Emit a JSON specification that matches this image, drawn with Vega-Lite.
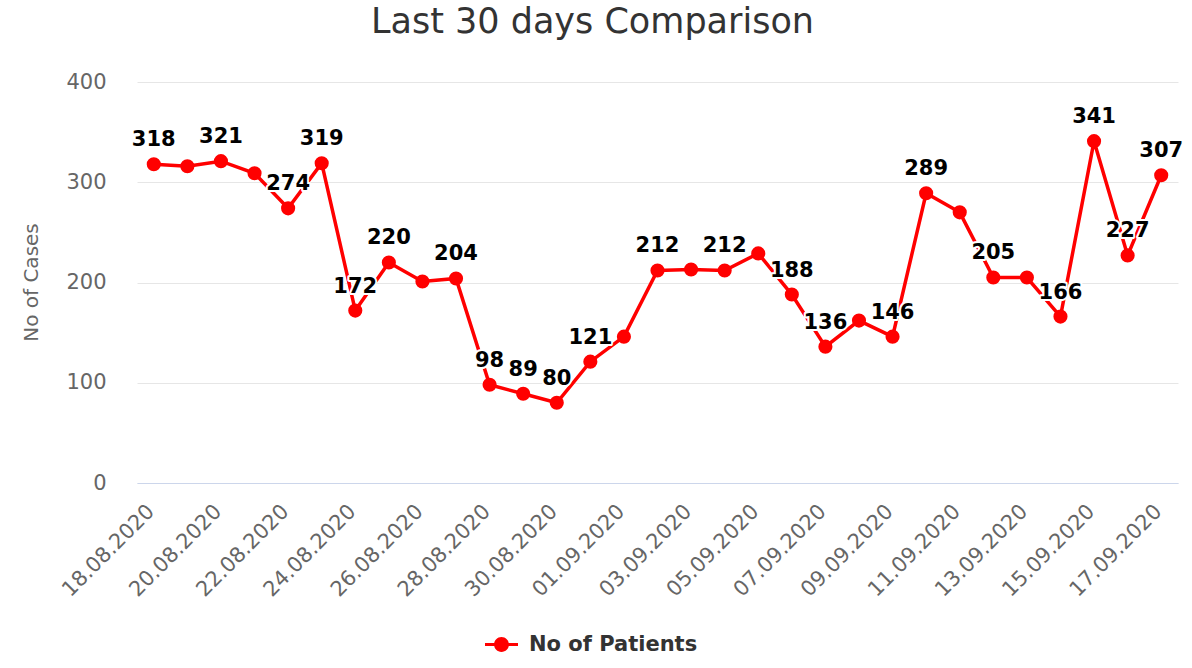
{
  "$schema": "https://vega.github.io/schema/vega-lite/v6.json",
  "width": 1041,
  "height": 401,
  "autosize": {"type": "none"},
  "padding": {"left": 137, "top": 82, "right": 14, "bottom": 185},
  "background": "white",
  "title": {
    "text": "Last 30 days Comparison",
    "fontSize": 35,
    "fontWeight": "normal",
    "color": "#333333",
    "anchor": "middle",
    "frame": "group",
    "dx": -65,
    "offset": 31
  },
  "config": {
    "font": "DejaVu Sans",
    "view": {"stroke": null}
  },
  "data": {
    "values": [
      {"date": "18.08.2020", "cases": 318, "shown": true},
      {"date": "19.08.2020", "cases": 316, "shown": false},
      {"date": "20.08.2020", "cases": 321, "shown": true},
      {"date": "21.08.2020", "cases": 309, "shown": false},
      {"date": "22.08.2020", "cases": 274, "shown": true},
      {"date": "23.08.2020", "cases": 319, "shown": true},
      {"date": "24.08.2020", "cases": 172, "shown": true},
      {"date": "25.08.2020", "cases": 220, "shown": true},
      {"date": "26.08.2020", "cases": 201, "shown": false},
      {"date": "27.08.2020", "cases": 204, "shown": true},
      {"date": "28.08.2020", "cases": 98, "shown": true},
      {"date": "29.08.2020", "cases": 89, "shown": true},
      {"date": "30.08.2020", "cases": 80, "shown": true},
      {"date": "31.08.2020", "cases": 121, "shown": true},
      {"date": "01.09.2020", "cases": 146, "shown": false},
      {"date": "02.09.2020", "cases": 212, "shown": true},
      {"date": "03.09.2020", "cases": 213, "shown": false},
      {"date": "04.09.2020", "cases": 212, "shown": true},
      {"date": "05.09.2020", "cases": 229, "shown": false},
      {"date": "06.09.2020", "cases": 188, "shown": true},
      {"date": "07.09.2020", "cases": 136, "shown": true},
      {"date": "08.09.2020", "cases": 162, "shown": false},
      {"date": "09.09.2020", "cases": 146, "shown": true},
      {"date": "10.09.2020", "cases": 289, "shown": true},
      {"date": "11.09.2020", "cases": 270, "shown": false},
      {"date": "12.09.2020", "cases": 205, "shown": true},
      {"date": "13.09.2020", "cases": 205, "shown": false},
      {"date": "14.09.2020", "cases": 166, "shown": true},
      {"date": "15.09.2020", "cases": 341, "shown": true},
      {"date": "16.09.2020", "cases": 227, "shown": true},
      {"date": "17.09.2020", "cases": 307, "shown": true}
    ]
  },
  "encoding": {
    "x": {
      "field": "date",
      "type": "ordinal",
      "sort": null,
      "scale": {"type": "point", "padding": 0.5},
      "axis": {
        "title": null,
        "values": ["18.08.2020", "20.08.2020", "22.08.2020", "24.08.2020", "26.08.2020", "28.08.2020", "30.08.2020", "01.09.2020", "03.09.2020", "05.09.2020", "07.09.2020", "09.09.2020", "11.09.2020", "13.09.2020", "15.09.2020", "17.09.2020"],
        "labelAngle": -45,
        "labelAlign": "right",
        "labelBaseline": "middle",
        "labelFontSize": 21,
        "labelColor": "#666666",
        "labelPadding": 25,
        "labelOffset": -3,
        "labelOverlap": false,
        "labelLimit": 0,
        "ticks": false,
        "grid": false,
        "domainColor": "#ccd6eb",
        "domainWidth": 1
      }
    },
    "y": {
      "field": "cases",
      "type": "quantitative",
      "scale": {"domain": [0, 400], "nice": false},
      "axis": {
        "title": "No of Cases",
        "titleFontSize": 20,
        "titleFontWeight": "normal",
        "titleColor": "#666666",
        "titleX": -106,
        "titleY": 200,
        "titleAngle": -90,
        "titleAlign": "center",
        "titleBaseline": "middle",
        "values": [0, 100, 200, 300, 400],
        "labelFontSize": 21,
        "labelColor": "#666666",
        "labelPadding": 31,
        "ticks": false,
        "domain": false,
        "gridColor": "#e6e6e6",
        "gridWidth": 1
      }
    }
  },
  "layer": [
    {
      "mark": {"type": "line", "strokeWidth": 3.5},
      "encoding": {
        "color": {
          "datum": "No of Patients",
          "scale": {"range": ["#ff0000"]},
          "legend": {
            "title": null,
            "orient": "none",
            "legendX": 348,
            "legendY": 546,
            "symbolType": "M-1,-0.09H1V0.09H-1Z M0.45,0A0.45,0.45 0 1,1 -0.45,0A0.45,0.45 0 1,1 0.45,0Z",
            "symbolSize": 1089,
            "symbolFillColor": "#ff0000",
            "symbolStrokeWidth": 0,
            "labelFontSize": 21,
            "labelFontWeight": "bold",
            "labelColor": "#333333",
            "labelOffset": 11,
            "labelLimit": 0
          }
        }
      }
    },
    {
      "mark": {"type": "point", "filled": true, "size": 200, "opacity": 1, "color": "#ff0000"}
    },
    {
      "transform": [{"filter": "datum.shown"}],
      "mark": {"type": "text", "fontSize": 21, "fontWeight": "bold", "baseline": "alphabetic", "align": "center", "dy": -18, "stroke": "white", "strokeWidth": 4, "strokeJoin": "round", "fill": "white"},
      "encoding": {"text": {"field": "cases", "type": "quantitative"}}
    },
    {
      "transform": [{"filter": "datum.shown"}],
      "mark": {"type": "text", "fontSize": 21, "fontWeight": "bold", "baseline": "alphabetic", "align": "center", "dy": -18, "color": "#000000"},
      "encoding": {"text": {"field": "cases", "type": "quantitative"}}
    }
  ]
}
